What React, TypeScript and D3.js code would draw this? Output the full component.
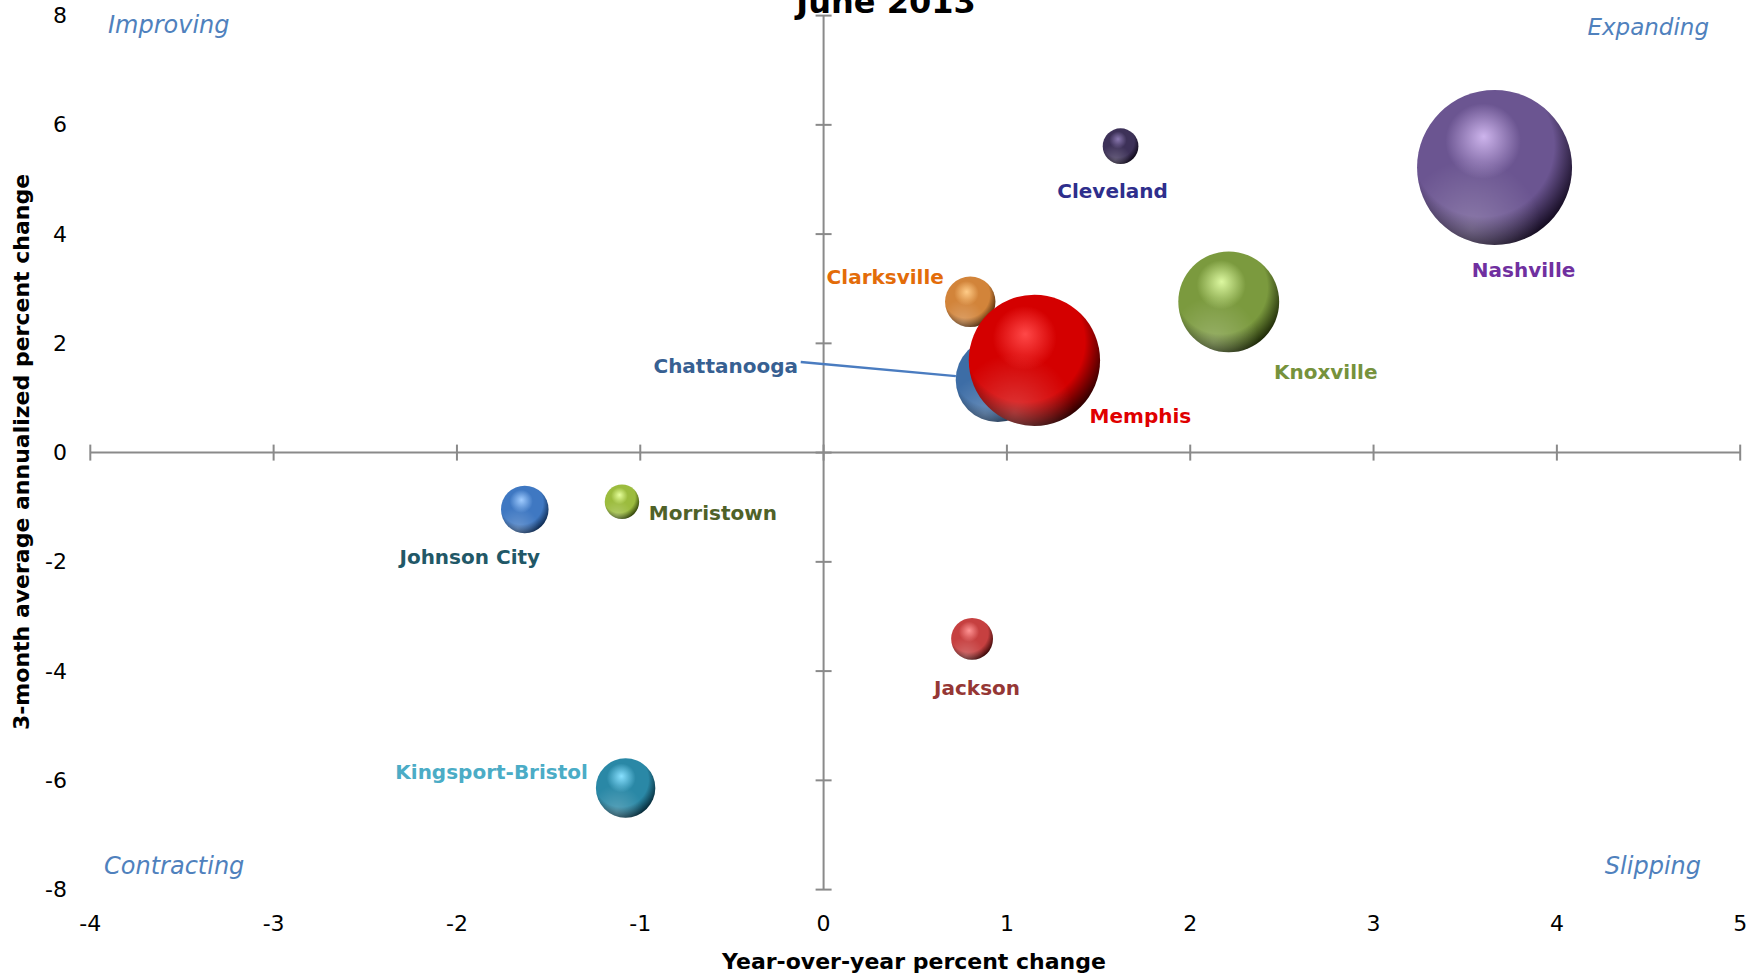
import React from "react";
import * as d3 from "d3";

const cities = ["Nashville", "Cleveland", "Knoxville", "Clarksville", "Chattanooga", "Memphis", "Morristown", "Johnson City", "Jackson", "Kingsport-Bristol"];
const yoyChange = [3.66, 1.62, 2.21, 0.8, 0.95, 1.15, -1.1, -1.63, 0.81, -1.08];
const threeMonthChange = [5.22, 5.61, 2.76, 2.76, 1.33, 1.69, -0.9, -1.04, -3.41, -6.14];
const employment = [850, 45, 360, 90, 250, 610, 42, 80, 62, 125];
const xTicks = [-4, -3, -2, -1, 0, 1, 2, 3, 4, 5];
const yTicks = [-8, -6, -4, -2, 0, 2, 4, 6, 8];
const quadrantLabels = ["Improving", "Expanding", "Contracting", "Slipping"];

const W = 1748;
const H = 980;

const bubbleStyle: Record<string, { base: string; hi: string; dark: string; label: string }> = {
  Nashville: { base: "#6b5591", hi: "#cdb4ec", dark: "#150c22", label: "#7030a0" },
  Cleveland: { base: "#3d3158", hi: "#8a78b0", dark: "#0e0818", label: "#2e2e8c" },
  Knoxville: { base: "#7b9a3e", hi: "#dcf8a0", dark: "#1e2a08", label: "#76923c" },
  Clarksville: { base: "#d2843a", hi: "#ffcc88", dark: "#4a2608", label: "#e36c09" },
  Chattanooga: { base: "#3d6da6", hi: "#88b4e0", dark: "#122a48", label: "#376092" },
  Memphis: { base: "#d40000", hi: "#ff4848", dark: "#300000", label: "#e00000" },
  Morristown: { base: "#9cbc3e", hi: "#e6ff9c", dark: "#2e4008", label: "#4f6228" },
  "Johnson City": { base: "#3f78c2", hi: "#a0ccff", dark: "#0e2a50", label: "#215867" },
  Jackson: { base: "#c64040", hi: "#ff9494", dark: "#3a0808", label: "#953735" },
  "Kingsport-Bristol": { base: "#2a88a6", hi: "#88e0ff", dark: "#062a38", label: "#4bacc6" },
};

const labelOffset: Record<string, [number, number]> = {
  Nashville: [29, 103],
  Cleveland: [-8, 45],
  Knoxville: [97, 70],
  Clarksville: [-85, -25],
  Chattanooga: [-272, -14],
  Memphis: [106, 56],
  Morristown: [91, 11],
  "Johnson City": [-55, 48],
  Jackson: [5, 49],
  "Kingsport-Bristol": [-134, -16],
};

export default function App() {
  const x = d3.scaleLinear().domain([-4, 5]).range([90.3, 1740.2]);
  const y = d3.scaleLinear().domain([-8, 8]).range([889.6, 15.6]);
  const r = d3.scaleSqrt().domain([0, 850]).range([0, 77.5]);
  const axisColor = "#8a8a8a";
  const font = "'DejaVu Sans', Verdana, sans-serif";
  const quadColor = "#4f81bd";

  const data = cities.map((c, i) => ({ c, x: yoyChange[i], y: threeMonthChange[i], s: employment[i] }));
  const drawOrder = ["Nashville", "Cleveland", "Knoxville", "Clarksville", "Chattanooga", "Memphis", "Morristown", "Johnson City", "Jackson", "Kingsport-Bristol"];

  const x0 = x(0);
  const y0 = y(0);

  const chat = data.find((d) => d.c === "Chattanooga")!;
  const chatOff = labelOffset["Chattanooga"];
  const cx = x(chat.x), cy = y(chat.y), cr = r(chat.s);
  const lx1 = cx + chatOff[0] + 75;
  const ly1 = cy + chatOff[1] - 4;
  const ang = Math.atan2(ly1 - cy, lx1 - cx);
  const lx2 = cx + Math.cos(ang) * cr;
  const ly2 = cy + Math.sin(ang) * cr;

  return (
    <svg width={W} height={H} style={{ position: "absolute", left: 0, top: 0, background: "#fff" }} xmlns="http://www.w3.org/2000/svg">
      <defs>
        {cities.map((c, i) => {
          const st = bubbleStyle[c];
          return (
            <g key={c}>
              <radialGradient id={`g${i}`} cx="0.42" cy="0.38" r="0.64" fx="0.43" fy="0.3">
                <stop offset="0" stopColor={st.hi} />
                <stop offset="0.38" stopColor={st.base} />
                <stop offset="0.72" stopColor={st.base} />
                <stop offset="1" stopColor={st.dark} />
              </radialGradient>
              <radialGradient id={`s${i}`} cx="0.35" cy="0.9" r="0.45">
                <stop offset="0" stopColor="#ffffff" stopOpacity="0.22" />
                <stop offset="1" stopColor="#ffffff" stopOpacity="0" />
              </radialGradient>
            </g>
          );
        })}
      </defs>

      <line x1={x(-4)} x2={x(5)} y1={y0} y2={y0} stroke={axisColor} strokeWidth={2} />
      <line x1={x0} x2={x0} y1={y(8)} y2={y(-8)} stroke={axisColor} strokeWidth={2} />
      {xTicks.map((t) => (
        <line key={`xt${t}`} x1={x(t)} x2={x(t)} y1={y0 - 8} y2={y0 + 8} stroke={axisColor} strokeWidth={2} />
      ))}
      {yTicks.map((t) => (
        <line key={`yt${t}`} x1={x0 - 8} x2={x0 + 8} y1={y(t)} y2={y(t)} stroke={axisColor} strokeWidth={2} />
      ))}

      {xTicks.map((t) => (
        <text key={`xl${t}`} x={x(t)} y={923} textAnchor="middle" dominantBaseline="central" fontFamily={font} fontSize={22} fill="#000">
          {t}
        </text>
      ))}
      {yTicks.map((t) => (
        <text key={`yl${t}`} x={67} y={y(t)} textAnchor="end" dominantBaseline="central" fontFamily={font} fontSize={22} fill="#000">
          {t}
        </text>
      ))}

      <text x={914} y={961} textAnchor="middle" dominantBaseline="central" fontFamily={font} fontWeight="bold" fontSize={22} fill="#000">
        Year-over-year percent change
      </text>
      <text transform={`translate(21,452) rotate(-90)`} textAnchor="middle" dominantBaseline="central" fontFamily={font} fontWeight="bold" fontSize={22} fill="#000">
        3-month average annualized percent change
      </text>

      <text x={886} y={13} textAnchor="middle" fontFamily={font} fontWeight="bold" fontSize={32} fill="#000">
        June 2013
      </text>

      <text x={108} y={25} dominantBaseline="central" fontFamily={font} fontStyle="italic" fontSize={24} fill={quadColor}>
        {quadrantLabels[0]}
      </text>
      <text x={1709} y={27} textAnchor="end" dominantBaseline="central" fontFamily={font} fontStyle="italic" fontSize={23} fill={quadColor}>
        {quadrantLabels[1]}
      </text>
      <text x={104} y={866} dominantBaseline="central" fontFamily={font} fontStyle="italic" fontSize={24} fill={quadColor}>
        {quadrantLabels[2]}
      </text>
      <text x={1701} y={866} textAnchor="end" dominantBaseline="central" fontFamily={font} fontStyle="italic" fontSize={24} fill={quadColor}>
        {quadrantLabels[3]}
      </text>

      <line x1={lx1} y1={ly1} x2={lx2} y2={ly2} stroke="#4a7cc0" strokeWidth={2.5} />

      {drawOrder.map((c) => {
        const i = cities.indexOf(c);
        const d = data[i];
        return (
          <g key={c}>
            <circle cx={x(d.x)} cy={y(d.y)} r={r(d.s)} fill={`url(#g${i})`} />
            <circle cx={x(d.x)} cy={y(d.y)} r={r(d.s)} fill={`url(#s${i})`} />
          </g>
        );
      })}

      {data.map((d) => {
        const off = labelOffset[d.c];
        return (
          <text key={`lab${d.c}`} x={x(d.x) + off[0]} y={y(d.y) + off[1]} textAnchor="middle" dominantBaseline="central" fontFamily={font} fontWeight="bold" fontSize={20} fill={bubbleStyle[d.c].label}>
            {d.c}
          </text>
        );
      })}
    </svg>
  );
}
